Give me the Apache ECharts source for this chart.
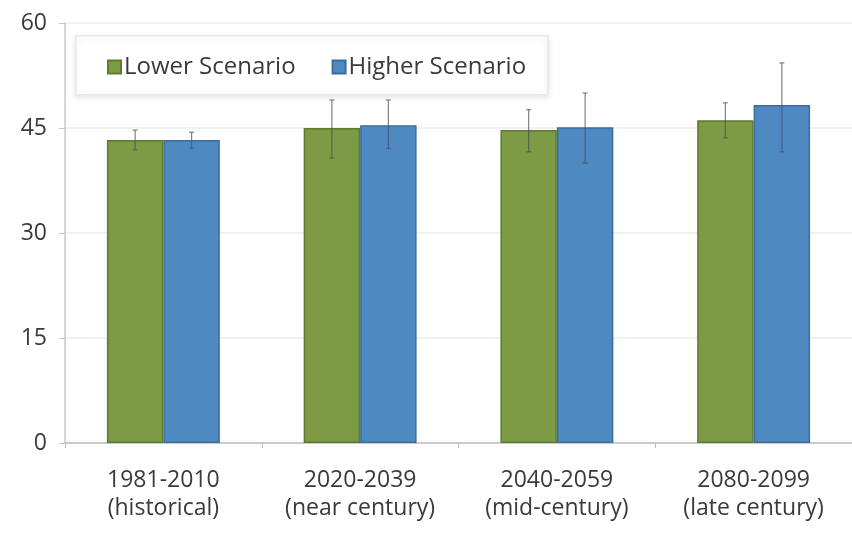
<!DOCTYPE html>
<html>
<head>
<meta charset="utf-8">
<script src="https://cdn.jsdelivr.net/npm/echarts@6/dist/echarts.min.js"></script>
<style>
  html, body { margin: 0; padding: 0; background: #ffffff; }
  #chart { width: 852px; height: 555px; }
</style>
</head>
<body>
<div id="chart"></div>
<script>
// Periods shown on the category axis (two-line labels)
const periods = ['1981-2010\n(historical)', '2020-2039\n(near century)', '2040-2059\n(mid-century)', '2080-2099\n(late century)'];

// Mean values per scenario
const lowerScenario = [43.3, 45.0, 44.7, 46.1];
const higherScenario = [43.3, 45.4, 45.1, 48.3];

// Range (low, high) drawn as error bars for each scenario
const lowerRangeLow = [41.9, 40.7, 41.6, 43.6];
const lowerRangeHigh = [44.7, 49.0, 47.6, 48.6];
const higherRangeLow = [42.1, 42.1, 40.0, 41.6];
const higherRangeHigh = [44.4, 49.0, 50.0, 54.3];

// Value axis ticks
const yTicks = [0, 15, 30, 45, 60];

const GREEN = '#7d9a45';
const BLUE = '#4f89c2';
const BAR_FRACTION = 0.287;
const FONT = '"Open Sans", "Noto Sans", sans-serif';

function errorSeries(name, lows, highs, side) {
  return {
    type: 'custom',
    name: name + ' range',
    silent: true,
    z: 5,
    data: lows.map((lo, i) => [i, lo, highs[i]]),
    renderItem: function (params, api) {
      const idx = api.value(0);
      const bandW = api.size([1, 0])[0];
      const dx = side * bandW * BAR_FRACTION / 2;
      const top = api.coord([idx, api.value(2)]);
      const bot = api.coord([idx, api.value(1)]);
      const x = top[0] + dx;
      const cap = 2.5;
      const style = { stroke: 'rgba(70,78,95,0.7)', lineWidth: 1.2 };
      return {
        type: 'group',
        children: [
          { type: 'line', shape: { x1: x, y1: top[1], x2: x, y2: bot[1] }, style: style },
          { type: 'line', shape: { x1: x - cap, y1: top[1], x2: x + cap, y2: top[1] }, style: style },
          { type: 'line', shape: { x1: x - cap, y1: bot[1], x2: x + cap, y2: bot[1] }, style: style }
        ]
      };
    }
  };
}

const chart = echarts.init(document.getElementById('chart'), null, { renderer: 'canvas' });

chart.setOption({
  animation: false,
  backgroundColor: '#ffffff',
  textStyle: { fontFamily: FONT },
  grid: { left: 65, top: 23, width: 794, bottom: 112, containLabel: false },
  graphic: [
    {
      type: 'rect',
      left: 75, top: 35, z: 0,
      shape: { width: 472, height: 59 },
      style: {
        fill: '#ffffff', stroke: '#ece7e2', lineWidth: 1.5,
        shadowBlur: 6, shadowColor: 'rgba(0,0,0,0.10)', shadowOffsetY: 2
      }
    }
  ],
  legend: {
    left: 102, top: 50,
    itemWidth: 13, itemHeight: 13, itemGap: 36,
    icon: 'rect',
    textStyle: { fontSize: 24, lineHeight: 24, color: '#3a3a3a', fontFamily: FONT, padding: [0, 0, 0, -2] },
    data: ['Lower Scenario', 'Higher Scenario'],
    z: 10
  },
  xAxis: {
    type: 'category',
    data: periods,
    axisLine: { show: true, lineStyle: { color: '#bdbdbd', width: 1.5 } },
    axisTick: { show: true, alignWithLabel: false, length: 5, lineStyle: { color: '#bdbdbd' } },
    axisLabel: { fontSize: 23, color: '#3a3a3a', lineHeight: 28, margin: 23, interval: 0 },
    splitLine: { show: false }
  },
  yAxis: {
    type: 'value',
    min: yTicks[0], max: yTicks[yTicks.length - 1], interval: 15,
    axisLine: { show: true, lineStyle: { color: '#c8c8c8', width: 1.5 } },
    axisTick: { show: true, length: 6, lineStyle: { color: '#c8c8c8' } },
    axisLabel: { fontSize: 23, color: '#3a3a3a', margin: 18 },
    splitLine: { show: true, lineStyle: { color: '#eceee6', width: 1.5 } }
  },
  series: [
    {
      name: 'Lower Scenario', type: 'bar', data: lowerScenario,
      barWidth: (BAR_FRACTION * 100) + '%', barGap: '0%',
      itemStyle: { color: GREEN, borderColor: '#5f7a32', borderWidth: 1.5 }
    },
    {
      name: 'Higher Scenario', type: 'bar', data: higherScenario,
      barWidth: (BAR_FRACTION * 100) + '%', barGap: '0%',
      itemStyle: { color: BLUE, borderColor: '#3b6d9e', borderWidth: 1.5 }
    },
    errorSeries('Lower Scenario', lowerRangeLow, lowerRangeHigh, -1),
    errorSeries('Higher Scenario', higherRangeLow, higherRangeHigh, 1)
  ]
});
</script>
</body>
</html>
